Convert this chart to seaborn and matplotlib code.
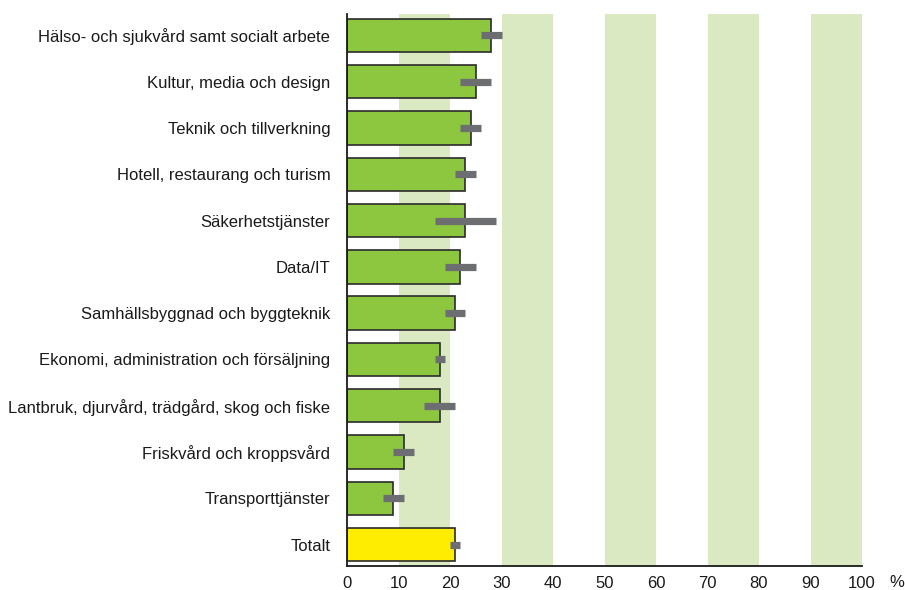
import matplotlib
matplotlib.use("Agg")
import matplotlib.pyplot as plt
import seaborn as sns
import pandas as pd

categories = [
    "Hälso- och sjukvård samt socialt arbete",
    "Kultur, media och design",
    "Teknik och tillverkning",
    "Hotell, restaurang och turism",
    "Säkerhetstjänster",
    "Data/IT",
    "Samhällsbyggnad och byggteknik",
    "Ekonomi, administration och försäljning",
    "Lantbruk, djurvård, trädgård, skog och fiske",
    "Friskvård och kroppsvård",
    "Transporttjänster",
    "Totalt",
]
values = [28, 25, 24, 23, 23, 22, 21, 18, 18, 11, 9, 21]
err_low = [26, 22, 22, 21, 17, 19, 19, 17, 15, 9, 7, 20]
err_high = [30, 28, 26, 25, 29, 25, 23, 19, 21, 13, 11, 22]
x_ticks = [0, 10, 20, 30, 40, 50, 60, 70, 80, 90, 100]

sns.set_theme(style="white")
plt.rcParams["font.family"] = ["Liberation Sans", "DejaVu Sans"]

df = pd.DataFrame({"cat": categories, "val": values})
colors = ["#8dc63f"] * (len(categories) - 1) + ["#ffed00"]

fig = plt.figure(figsize=(9.05, 5.9), dpi=100)
ax = fig.add_axes([347 / 905, 1 - 566 / 590, 515 / 905, 552 / 590])

for lo in [10, 30, 50, 70, 90]:
    ax.axvspan(lo, lo + 10, color="#dbe9c3", zorder=0, lw=0)

sns.barplot(data=df, x="val", y="cat", hue="cat", palette=colors, legend=False,
            orient="h", width=0.72, edgecolor="#2b2b2b", linewidth=1.2,
            saturation=1, ax=ax, zorder=2)

for i, (lo, hi) in enumerate(zip(err_low, err_high)):
    ax.plot([lo, hi], [i, i], color="#6d6e71", lw=5.2, solid_capstyle="butt", zorder=3)

ax.set_xlim(0, 100)
ax.set_ylim(len(categories) - 1 + 0.46, -0.46)
ax.set_xticks(x_ticks)
ax.set_xticklabels([str(t) for t in x_ticks])
ax.set_xlabel("")
ax.set_ylabel("")
ax.tick_params(axis="both", length=0, labelsize=12, colors="#1a1a1a")
ax.tick_params(axis="y", pad=12)
ax.tick_params(axis="x", pad=7)
for s in ["top", "right"]:
    ax.spines[s].set_visible(False)
for s in ["left", "bottom"]:
    ax.spines[s].set_color("#1a1a1a")
    ax.spines[s].set_linewidth(1.3)
ax.grid(False)
ax.text(1.068, -0.03, "%", transform=ax.transAxes, fontsize=12, color="#1a1a1a",
        ha="center", va="center")

fig.savefig("out.png", dpi=100)
